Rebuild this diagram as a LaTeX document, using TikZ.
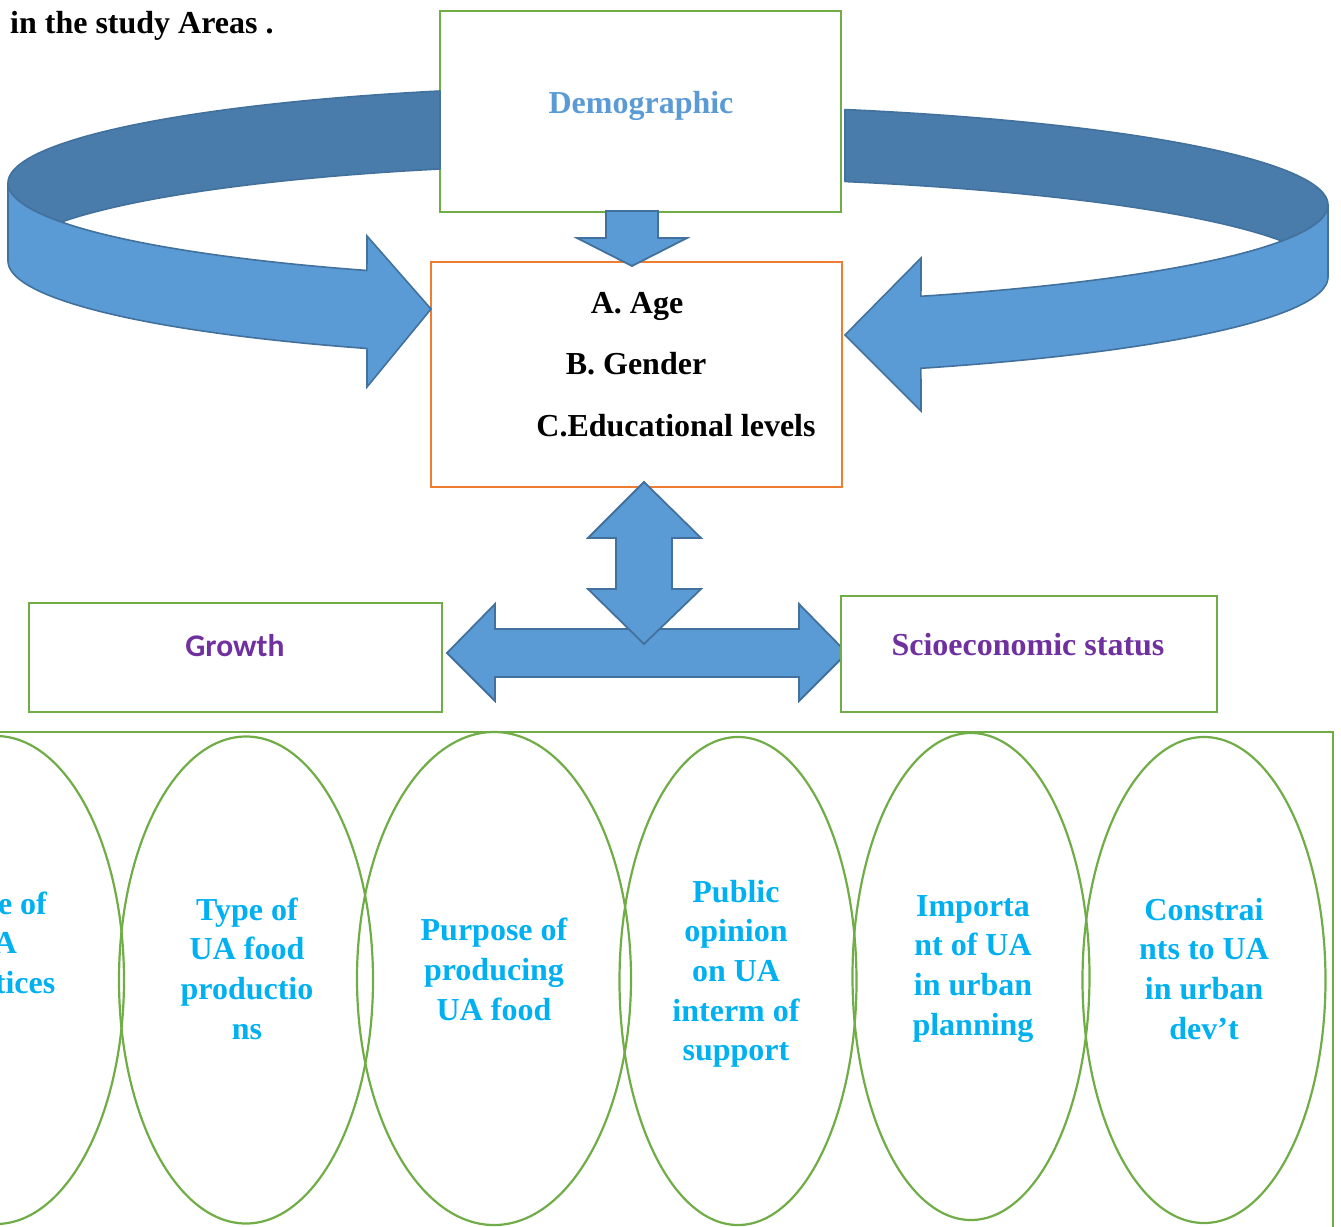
\documentclass[tikz,border=0pt]{standalone}
\usepackage{fontspec}
\setmainfont{Liberation Serif}
\newfontfamily\carlitofont{Carlito}
\usetikzlibrary{shapes.geometric}
\definecolor{uagreen}{HTML}{70AD47}
\definecolor{uaorange}{HTML}{ED7D31}
\definecolor{uablue}{HTML}{5B9BD5}
\definecolor{uadark}{HTML}{497CAA}
\definecolor{ualine}{HTML}{41719C}
\definecolor{uapurple}{HTML}{7030A0}
\definecolor{uacyan}{HTML}{00B0F0}
\tikzset{
  greenbox/.style={draw=uagreen, line width=2.5pt, fill=white, inner sep=0pt},
  orangebox/.style={draw=uaorange, line width=2.5pt, inner sep=0pt},
  oval/.style={ellipse, draw=uagreen, line width=2.2pt, inner sep=0pt},
  ribbonback/.style={fill=uadark, draw=ualine, line width=1.6pt, line join=round},
  ribbonfront/.style={fill=uablue, draw=ualine, line width=1.6pt, line join=miter},
  blockarrow/.style={fill=uablue, draw=ualine, line width=1.8pt, line join=miter},
  bigtxt/.style={inner sep=0pt, font=\fontsize{32}{39.7}\selectfont\bfseries},
  ovaltxt/.style={bigtxt, text=uacyan, align=center}
}
\begin{document}
\begin{tikzpicture}[x=1pt,y=-1pt]
\clip (0,0) rectangle (1341,1226);

% title
\node[bigtxt, anchor=base west] (title) at (10,33) {in the study Areas .};

% boxes
\node[greenbox, minimum width=401pt, minimum height=201pt] (demo) at (640.5,111.5) {};
\node[orangebox, minimum width=411pt, minimum height=225pt] (attr) at (636.5,374.5) {};

% curved ribbon arrows (left)
\draw[ribbonback] plot[domain=251.55:180,samples=80] ({640+632*cos(\x)},{183+97*sin(\x)})
  -- plot[domain=180:251.55,samples=80] ({640+632*cos(\x)},{261+97*sin(\x)}) -- cycle;
\draw[ribbonfront] plot[domain=180:115.6,samples=80] ({640+632*cos(\x)},{183+97*sin(\x)})
  -- (367,236) -- (431,309) -- (367,387)
  -- plot[domain=115.6:180,samples=80] ({640+632*cos(\x)},{261+97*sin(\x)}) -- cycle;

% curved ribbon arrows (right)
\draw[ribbonback] plot[domain=287.33:360,samples=80] ({640+688*cos(\x)},{205+100*sin(\x)})
  -- plot[domain=360:287.33,samples=80] ({640+688*cos(\x)},{277+100*sin(\x)}) -- cycle;
\draw[ribbonfront] plot[domain=0:65.9,samples=80] ({640+688*cos(\x)},{205+100*sin(\x)})
  -- (921,258) -- (845,335) -- (921,411)
  -- plot[domain=65.9:0,samples=80] ({640+688*cos(\x)},{277+100*sin(\x)}) -- cycle;

% down arrow demo -> attr
\draw[blockarrow] (606,211) -- (658,211) -- (658,238) -- (687,238) -- (632,266)
  -- (577,238) -- (606,238) -- cycle;

% horizontal double arrow
\draw[blockarrow] (447,653) -- (495,604) -- (495,629) -- (799,629) -- (799,604)
  -- (847,653) -- (799,701) -- (799,677) -- (495,677) -- (495,701) -- cycle;

% vertical double arrow
\draw[blockarrow] (644,482) -- (701,538) -- (672,538) -- (672,589) -- (701,589)
  -- (644,644) -- (588,589) -- (616,589) -- (616,538) -- (588,538) -- cycle;

\node[greenbox, minimum width=413pt, minimum height=109pt] (growth) at (235.5,657.5) {};
\node[greenbox, minimum width=376pt, minimum height=116pt] (scio) at (1029,654) {};

% texts in upper boxes
\node[bigtxt, anchor=base, text=uablue] (demotxt) at (641,113) {Demographic};
\node[bigtxt, anchor=base] (age) at (637,313) {A. Age};
\node[bigtxt, anchor=base] (gender) at (636,374) {B. Gender};
\node[bigtxt, anchor=base] (edu) at (676,436) {C.Educational levels};
\node[inner sep=0pt, anchor=base, text=uapurple, font=\carlitofont\fontsize{31.5}{36}\selectfont\bfseries] (growthtxt) at (235,656) {Growth};
\node[bigtxt, anchor=base, text=uapurple] (sciotxt) at (1028,655) {Scioeconomic status};

% bottom panel
\node[draw=uagreen, line width=2.5pt, inner sep=0pt, minimum width=1343pt, minimum height=508pt] (panel) at (661.5,986) {};

% ovals
\node[oval, minimum width=256pt, minimum height=488pt] (o1) at (-4,980) {};
\node[oval, minimum width=254pt, minimum height=487pt] (o2) at (246,980) {};
\node[oval, minimum width=274pt, minimum height=493pt] (o3) at (494,978.5) {};
\node[oval, minimum width=237pt, minimum height=488pt] (o4) at (738,981) {};
\node[oval, minimum width=237pt, minimum height=487pt] (o5) at (971,976.5) {};
\node[oval, minimum width=243pt, minimum height=486pt] (o6) at (1204,980) {};

\node[ovaltxt] (t1) at (-6,946) {Scale of\\UA\\practices};
\node[ovaltxt] (t2) at (247,968.7) {Type of\\UA food\\productio\\ns};
\node[ovaltxt] (t3) at (494,969.2) {Purpose of\\producing\\UA food};
\node[ovaltxt] (t4) at (736,973.7) {Public\\opinion\\on UA\\interm of\\support};
\node[ovaltxt] (t5) at (973,968.7) {Importa\\nt of UA\\in urban\\planning};
\node[ovaltxt] (t6) at (1204,968.7) {Constrai\\nts to UA\\in urban\\dev’t};
\end{tikzpicture}
\end{document}
